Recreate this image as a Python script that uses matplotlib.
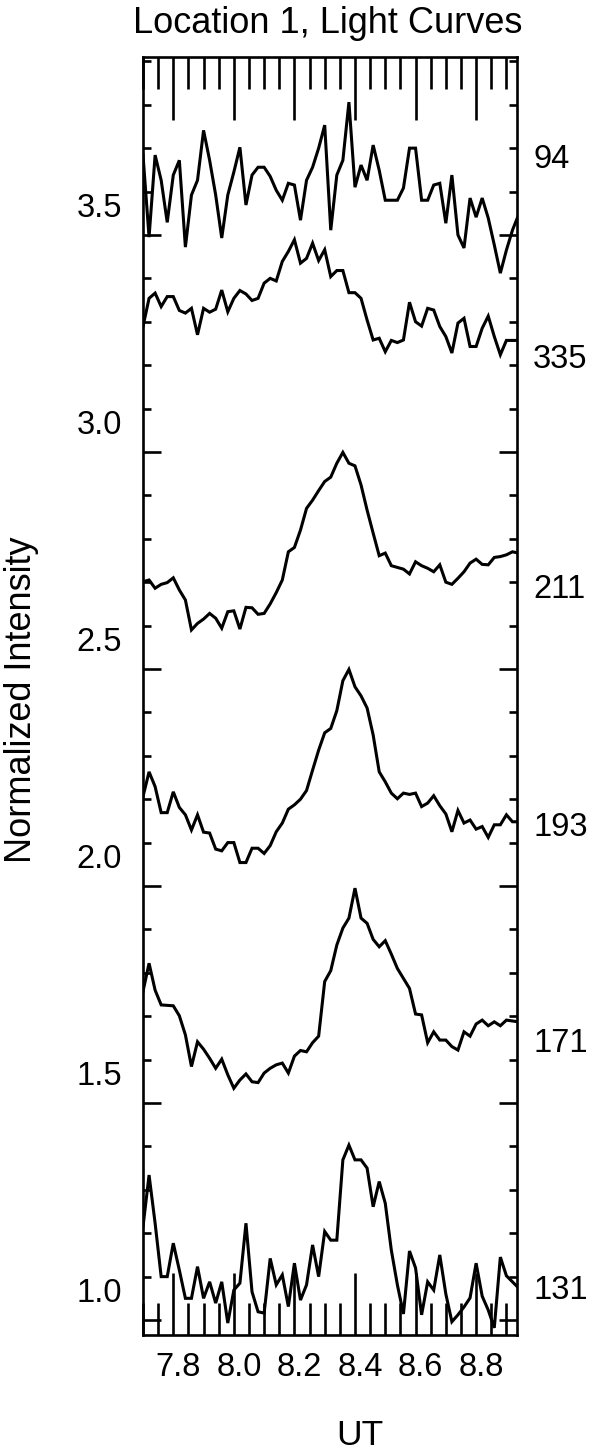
import matplotlib
matplotlib.use("Agg")
import matplotlib.pyplot as plt
import matplotlib.transforms as mtransforms
from matplotlib.ticker import MultipleLocator

plt.rcParams["font.family"] = ["Liberation Sans", "DejaVu Sans"]

# ---- data -------------------------------------------------------------
UT = [7.70, 7.72, 7.74, 7.76, 7.78, 7.80, 7.82, 7.84, 7.86, 7.88,
      7.90, 7.92, 7.94, 7.96, 7.98, 8.00, 8.02, 8.04, 8.06, 8.08,
      8.10, 8.12, 8.14, 8.16, 8.18, 8.20, 8.22, 8.24, 8.26, 8.28,
      8.30, 8.32, 8.34, 8.36, 8.38, 8.40, 8.42, 8.44, 8.46, 8.48,
      8.50, 8.52, 8.54, 8.56, 8.58, 8.60, 8.62, 8.64, 8.66, 8.68,
      8.70, 8.72, 8.74, 8.76, 8.78, 8.80, 8.82, 8.84, 8.86, 8.88,
      8.90, 8.92, 8.94]

I94 = [3.684, 3.495, 3.684, 3.626, 3.529, 3.638, 3.672, 3.472, 3.592, 3.626,
       3.741, 3.672, 3.592, 3.493, 3.592, 3.645, 3.702, 3.569, 3.638, 3.656,
       3.656, 3.635, 3.603, 3.580, 3.619, 3.615, 3.534, 3.626, 3.656, 3.700,
       3.753, 3.511, 3.638, 3.672, 3.806, 3.610, 3.661, 3.626, 3.707, 3.649,
       3.580, 3.580, 3.580, 3.608, 3.700, 3.700, 3.580, 3.580, 3.615, 3.619,
       3.527, 3.638, 3.500, 3.470, 3.585, 3.541, 3.585, 3.539, 3.477, 3.412,
       3.465, 3.511, 3.546]

I335 = [3.289, 3.354, 3.366, 3.335, 3.358, 3.358, 3.326, 3.320, 3.331, 3.270,
        3.331, 3.322, 3.329, 3.373, 3.323, 3.354, 3.372, 3.364, 3.349, 3.354,
        3.389, 3.400, 3.394, 3.439, 3.462, 3.489, 3.435, 3.446, 3.481, 3.441,
        3.466, 3.404, 3.418, 3.418, 3.367, 3.367, 3.354, 3.304, 3.258, 3.262,
        3.231, 3.257, 3.252, 3.258, 3.345, 3.300, 3.290, 3.331, 3.327, 3.289,
        3.266, 3.228, 3.297, 3.308, 3.243, 3.243, 3.285, 3.313, 3.266, 3.224,
        3.257, 3.257, 3.257]

I211 = [2.701, 2.705, 2.686, 2.695, 2.699, 2.710, 2.682, 2.659, 2.590, 2.605,
        2.615, 2.628, 2.617, 2.594, 2.632, 2.634, 2.592, 2.642, 2.641, 2.626,
        2.628, 2.650, 2.676, 2.705, 2.770, 2.780, 2.820, 2.870, 2.889, 2.911,
        2.932, 2.942, 2.974, 2.999, 2.974, 2.968, 2.924, 2.866, 2.813, 2.761,
        2.767, 2.738, 2.734, 2.730, 2.719, 2.747, 2.738, 2.732, 2.724, 2.740,
        2.700, 2.695, 2.709, 2.724, 2.744, 2.753, 2.741, 2.740, 2.757, 2.759,
        2.763, 2.770, 2.767]

I193 = [2.206, 2.263, 2.229, 2.169, 2.169, 2.217, 2.181, 2.164, 2.129, 2.164,
        2.124, 2.122, 2.085, 2.081, 2.100, 2.100, 2.054, 2.054, 2.087, 2.087,
        2.075, 2.093, 2.125, 2.145, 2.177, 2.187, 2.200, 2.220, 2.267, 2.313,
        2.353, 2.363, 2.404, 2.473, 2.499, 2.459, 2.438, 2.410, 2.348, 2.263,
        2.240, 2.214, 2.201, 2.214, 2.211, 2.214, 2.183, 2.191, 2.208, 2.185,
        2.166, 2.125, 2.174, 2.145, 2.152, 2.131, 2.137, 2.112, 2.141, 2.141,
        2.164, 2.148, 2.148]

I171 = [1.757, 1.822, 1.760, 1.726, 1.725, 1.724, 1.701, 1.657, 1.584, 1.641,
        1.624, 1.603, 1.580, 1.601, 1.565, 1.534, 1.553, 1.567, 1.549, 1.547,
        1.569, 1.580, 1.588, 1.592, 1.569, 1.608, 1.621, 1.618, 1.639, 1.654,
        1.780, 1.805, 1.864, 1.903, 1.926, 1.995, 1.926, 1.914, 1.877, 1.860,
        1.874, 1.843, 1.810, 1.787, 1.764, 1.705, 1.703, 1.639, 1.664, 1.645,
        1.645, 1.630, 1.622, 1.664, 1.654, 1.682, 1.691, 1.678, 1.687, 1.678,
        1.691, 1.689, 1.687]

I131 = [1.215, 1.334, 1.223, 1.100, 1.100, 1.177, 1.115, 1.050, 1.050, 1.123,
        1.050, 1.088, 1.039, 1.088, 0.993, 1.069, 1.085, 1.223, 1.065, 1.019,
        1.016, 1.142, 1.081, 1.104, 1.031, 1.131, 1.046, 1.081, 1.173, 1.100,
        1.204, 1.184, 1.184, 1.369, 1.403, 1.369, 1.369, 1.350, 1.261, 1.319,
        1.269, 1.161, 1.081, 1.014, 1.159, 1.120, 1.012, 1.088, 1.069, 1.150,
        1.060, 0.996, 1.012, 1.030, 1.051, 1.131, 1.055, 1.023, 0.982, 1.145,
        1.102, 1.088, 1.074]

CURVES = [I94, I335, I211, I193, I171, I131]
CHANNELS = ["94", "335", "211", "193", "171", "131"]
LABEL_Y = [3.673, 3.212, 2.682, 2.134, 1.638, 1.069]

XTICKS = [7.8, 8.0, 8.2, 8.4, 8.6, 8.8]
YTICKS = [1.0, 1.5, 2.0, 2.5, 3.0, 3.5]

# ---- figure -------------------------------------------------------------
W, H = 600, 1453
fig = plt.figure(figsize=(W / 100, H / 100), dpi=100)
ax = fig.add_axes([143 / W, 1 - 1335 / H, 374 / W, 1278 / H])

for vals in CURVES:
    ax.plot(UT, vals, color="black", lw=2.2, solid_joinstyle="miter")

ax.set_xlim(7.70, 8.935)
ax.set_ylim(0.9655, 3.91)

ax.set_xticks(XTICKS, [f"{t:.1f}" for t in XTICKS])
ax.set_yticks(YTICKS, [f"{t:.1f}" for t in YTICKS])
ax.xaxis.set_minor_locator(MultipleLocator(0.05))
ax.yaxis.set_minor_locator(MultipleLocator(0.1))

ax.tick_params(which="both", direction="in", top=True, right=True,
               width=1.9, labelsize=23.5, color="black")
ax.tick_params(axis="x", which="major", length=45, pad=12)
ax.tick_params(axis="x", which="minor", length=23)
ax.tick_params(axis="y", which="major", length=13, pad=15)
ax.tick_params(axis="y", which="minor", length=6)
for s in ax.spines.values():
    s.set_linewidth(1.9)

# IDL-style label placement: y labels sit above their ticks, x labels a bit right
dy = mtransforms.ScaledTranslation(0, 30 / 100, fig.dpi_scale_trans)
for lab in ax.get_yticklabels():
    lab.set_transform(lab.get_transform() + dy)
dx = mtransforms.ScaledTranslation(5 / 100, 0, fig.dpi_scale_trans)
for lab in ax.get_xticklabels():
    lab.set_transform(lab.get_transform() + dx)

for name, y in zip(CHANNELS, LABEL_Y):
    ax.text(8.988, y, name, ha="left", va="center", fontsize=23.5,
            clip_on=False)

fig.text(327.5 / W, 1 - 33 / H, "Location 1, Light Curves",
         ha="center", va="baseline", fontsize=26)
fig.text(360 / W, 8 / H, "UT", ha="center", va="baseline", fontsize=25.5)
fig.text(22 / W, 1 - 700 / H, "Normalized Intensity", rotation=90,
         ha="center", va="center", fontsize=26)

fig.savefig("out.png", dpi=100, facecolor="white")
